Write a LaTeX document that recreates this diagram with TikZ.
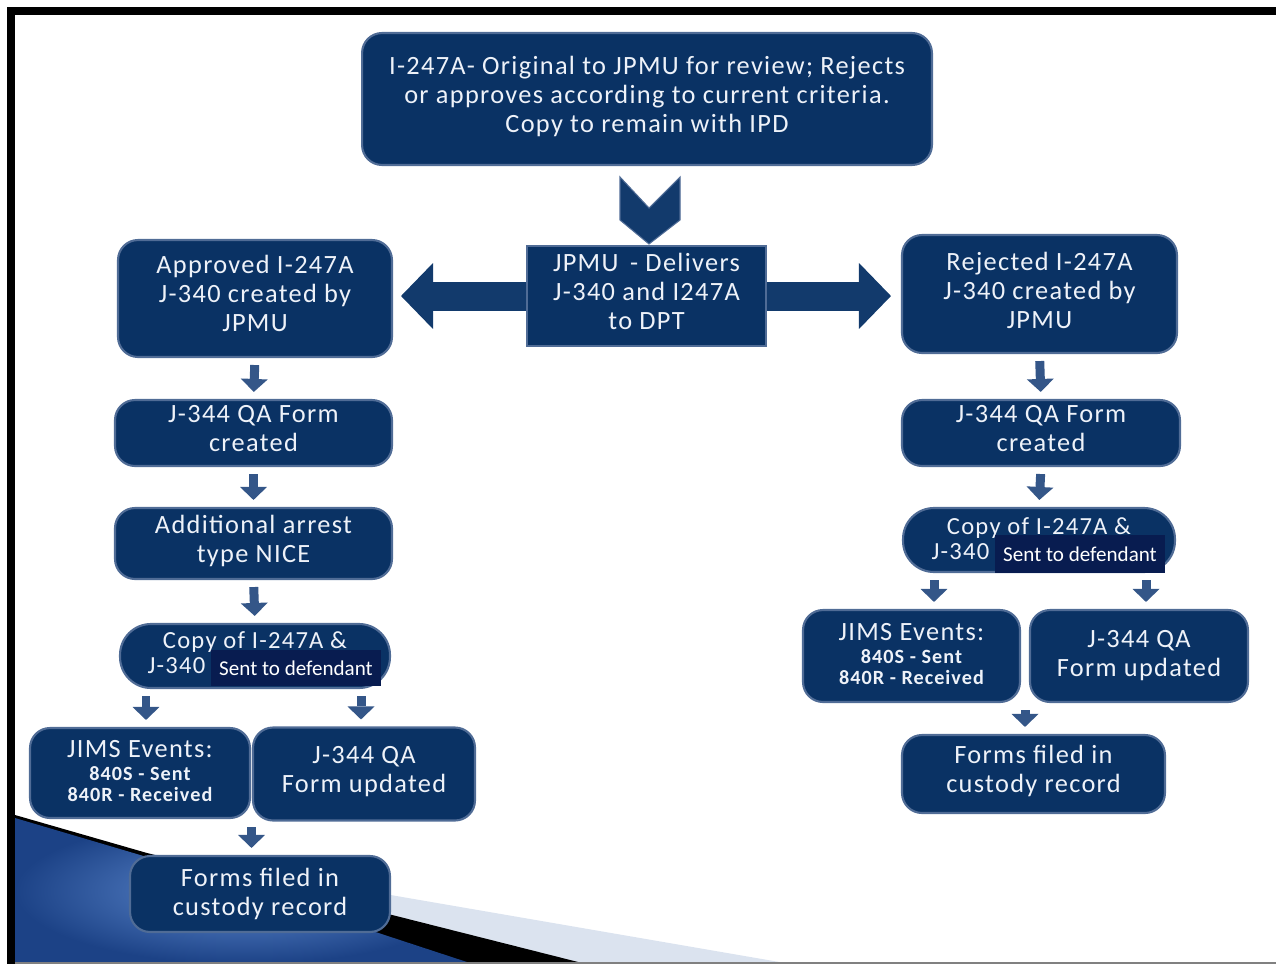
\documentclass[tikz,border=0pt]{standalone}
\usepackage{fontspec}
\setmainfont{Carlito}
\newfontfamily\boxfont{Carlito}[LetterSpace=5]
\usetikzlibrary{positioning,calc,arrows.meta}
\definecolor{navy}{RGB}{10,50,100}
\definecolor{navyedge}{RGB}{80,108,150}
\definecolor{arrowblue}{RGB}{52,86,136}
\definecolor{blockblue}{RGB}{18,58,108}
\definecolor{sentnavy}{RGB}{8,28,80}
\definecolor{boxtext}{RGB}{238,242,249}
\definecolor{swooshlight}{RGB}{219,227,239}
\definecolor{swooshmid}{RGB}{96,140,210}
\definecolor{swooshdark}{RGB}{28,66,134}
\tikzset{
	procbox/.style={draw=navyedge, line width=1.2pt, fill=navy, rounded corners=0.4cm, text=boxtext, align=center, inner sep=0pt, text depth=0.2cm, font=\boxfont\fontsize{15}{16.5}\selectfont},
	hubbox/.style={procbox, sharp corners},
	pillbox/.style={procbox, rounded corners=0.62cm, text depth=0.06cm, font=\boxfont\fontsize{14}{14.2}\selectfont},
	jimsbox/.style={procbox, text depth=0.08cm, font=\boxfont\bfseries\fontsize{11.5}{12}\selectfont},
	sentbox/.style={fill=sentnavy, text=white, inner sep=0pt, font=\fontsize{12}{14}\selectfont},
	bigarr/.style={draw=blockblue, line width=0.58cm, -{Triangle[length=0.64cm, width=1.32cm, line width=0pt]}},
	dnarr/.style={draw=arrowblue, line width=0.18cm, -{Triangle[length=0.26cm, width=0.54cm, line width=0pt]}, shorten <=0.14cm, shorten >=0.14cm}
}

\begin{document}
\begin{tikzpicture}[x=0.02cm, y=-0.02cm]
	\useasboundingbox (0,0) rectangle (1276,964);

	\fill[swooshlight] (147,853) -- (791,964) -- (147,964) -- cycle;
	\fill[black] (15,815) -- (147,853) -- (586,964) -- (15,964) -- cycle;
	\shade[inner color=swooshmid, outer color=swooshdark] (15,818) -- (147,857) -- (473,964) -- (15,964) -- cycle;
	\draw[gray, line width=0.05cm] (15,963) -- (1276,963);
	\draw[line width=0.16cm] (11,964) -- (11,11) -- (1276,11);

	\node[procbox, minimum width=11.4cm, minimum height=2.64cm] (top) at (647,99) {I-247A- Original to JPMU for review; Rejects\\ or approves according to current criteria.\\ Copy to remain with IPD};
	\node[hubbox, minimum width=4.78cm, minimum height=2cm] (deliv) at (646.5,296) {JPMU\, - Delivers\\ J-340 and I247A\\ to DPT};

	\node[procbox, minimum width=5.48cm, minimum height=2.34cm] (apprL) at (255,298.5) {Approved I-247A\\ J-340 created by\\ JPMU};
	\node[procbox, minimum width=5.54cm, minimum height=1.32cm] (qaL) at (253.5,433) {J-344 QA Form\\ created};
	\node[procbox, minimum width=5.54cm, minimum height=1.42cm] (addL) at (253.5,543.5) {Additional arrest\\ type NICE};
	\node[pillbox, text depth=0.15cm, minimum width=5.4cm, minimum height=1.28cm] (copyL) at (255,656) {Copy of I-247A \&\\ \makebox[4.3cm][l]{J-340}};
	\node[sentbox, minimum width=3.4cm, minimum height=0.72cm] (sentL) at (296,668) {Sent to defendant};
	\node[jimsbox, minimum width=4.4cm, minimum height=1.8cm] (jimsL) at (140,773) {{\mdseries\fontsize{15}{12}\selectfont JIMS Events:}\\[1pt] 840S - Sent\\ 840R - Received};
	\node[procbox, minimum width=4.44cm, minimum height=1.86cm] (updL) at (364,774) {J-344 QA\\ Form updated};
	\node[procbox, text depth=0.1cm, minimum width=5.2cm, minimum height=1.52cm] (formsL) at (260,894) {Forms filed in\\ custody record};

	\node[procbox, text depth=0.16cm, minimum width=5.5cm, minimum height=2.36cm] (rejR) at (1039.5,294) {Rejected I-247A\\ J-340 created by\\ JPMU};
	\node[procbox, minimum width=5.56cm, minimum height=1.32cm] (qaR) at (1041,433) {J-344 QA Form\\ created};
	\node[pillbox, minimum width=5.44cm, minimum height=1.28cm] (copyR) at (1039,540) {Copy of I-247A \&\\ \makebox[4.3cm][l]{J-340}};
	\node[sentbox, minimum width=3.4cm, minimum height=0.76cm] (sentR) at (1080,554) {Sent to defendant};
	\node[jimsbox, minimum width=4.34cm, minimum height=1.84cm] (jimsR) at (911.5,656) {{\mdseries\fontsize{15}{12}\selectfont JIMS Events:}\\[1pt] 840S - Sent\\ 840R - Received};
	\node[procbox, text depth=0.1cm, minimum width=4.36cm, minimum height=1.84cm] (updR) at (1139,656) {J-344 QA\\ Form updated};
	\node[procbox, minimum width=5.26cm, minimum height=1.56cm] (formsR) at (1033.5,774) {Forms filed in\\ custody record};

	\coordinate (joinL) at ($(jimsL.south east)!0.5!(updL.south west)$);
	\coordinate (joinR) at ($(jimsR.south east)!0.5!(updR.south west)$);

	\fill[blockblue, draw=navyedge, line width=0.6pt] (620,177) -- (649,208) -- (680,177) -- (680,220) -- (649,244) -- (620,220) -- cycle;
	\draw[bigarr, shorten >=0.16cm] (deliv.west) -- (deliv.west -| apprL.east);
	\draw[bigarr, shorten >=0.2cm] (deliv.east) -- (deliv.east -| rejR.west);

	\draw[dnarr] (apprL.south) -- (qaL.north);
	\draw[dnarr] (qaL.south) -- (addL.north);
	\draw[dnarr] (addL.south) -- (copyL.north);
	\draw[dnarr] ([xshift=0.12cm]jimsL.north |- copyL.south) -- ([xshift=0.12cm]jimsL.north);
	\draw[dnarr] ([xshift=-0.06cm]updL.north |- copyL.south) -- ([xshift=-0.06cm]updL.north);
	\draw[dnarr] (joinL) -- (joinL |- formsL.north);

	\draw[dnarr] (rejR.south) -- (qaR.north);
	\draw[dnarr] (qaR.south) -- (copyR.north);
	\draw[dnarr] ([xshift=0.45cm]jimsR.north |- copyR.south) -- ([xshift=0.45cm]jimsR.north);
	\draw[dnarr] ([xshift=0.14cm]updR.north |- copyR.south) -- ([xshift=0.14cm]updR.north);
	\draw[dnarr] (joinR) -- (joinR |- formsR.north);
\end{tikzpicture}
\end{document}
